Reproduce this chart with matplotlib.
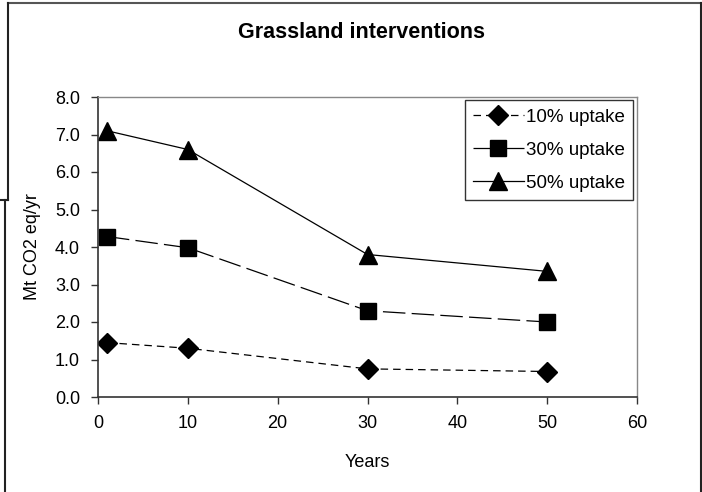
import matplotlib.pyplot as plt
from matplotlib.lines import Line2D

plt.rcParams['font.family'] = ['Liberation Sans', 'DejaVu Sans']

# data
years = [1, 10, 30, 50]
uptake_10 = [1.45, 1.30, 0.75, 0.68]
uptake_30 = [4.28, 3.98, 2.30, 2.00]
uptake_50 = [7.10, 6.60, 3.80, 3.35]

fig = plt.figure(figsize=(7.02, 4.92), dpi=100)
ax = fig.add_axes([98 / 702, 1 - 397 / 492, 539 / 702, 300 / 492])

ax.plot(years, uptake_10, color='black', lw=0.9, ls=(0, (6, 4)),
        marker='D', ms=10, mfc='black', mec='black', label='10% uptake')
ax.plot(years, uptake_30, color='black', lw=0.9, ls=(0, (18, 5)),
        marker='s', ms=11, mfc='black', mec='black', label='30% uptake')
ax.plot(years, uptake_50, color='black', lw=0.9, ls='-',
        marker='^', ms=13, mfc='black', mec='black', label='50% uptake')

ax.set_xlim(0, 60)
ax.set_ylim(0, 8)
ax.set_xticks(range(0, 61, 10))
ax.set_yticks([i for i in range(9)])
ax.set_yticklabels([f'{i:.1f}' for i in range(9)])
ax.tick_params(direction='out', length=5, width=1, labelsize=13, color='#333333', pad=8)
for s in ['top', 'right']:
    ax.spines[s].set_color('#888888')
    ax.spines[s].set_linewidth(1)
for s in ['left', 'bottom']:
    ax.spines[s].set_color('#333333')
    ax.spines[s].set_linewidth(1.2)

ax.set_xlabel('Years', fontsize=13, labelpad=16)
ax.set_ylabel('Mt CO2 eq/yr', fontsize=13, labelpad=10)
fig.text(362 / 702, 1 - 32 / 492, 'Grassland interventions', ha='center', va='center',
         fontsize=15.5, fontweight='bold')

leg = ax.legend(loc='upper right', bbox_to_anchor=(1 - 4 / 539, 1 - 3 / 300),
                frameon=True, fancybox=False, fontsize=13.5, handlelength=2.7,
                borderpad=0.45, labelspacing=0.85, handletextpad=0.1, borderaxespad=0)
leg.get_frame().set_edgecolor('black')
leg.get_frame().set_linewidth(1)

# outer chart frame
def fline(xs, ys, c='#222222', lw=1.5):
    fig.add_artist(Line2D([x / 702 for x in xs], [1 - y / 492 for y in ys],
                          color=c, lw=lw, transform=fig.transFigure))

fline([8, 701], [3, 3], c='#555555')
fline([701, 701], [3, 492])
fline([8, 8], [3, 200])
fline([0, 8], [200, 200])
fline([5, 5], [200, 492])

fig.savefig('out.png', dpi=100)
